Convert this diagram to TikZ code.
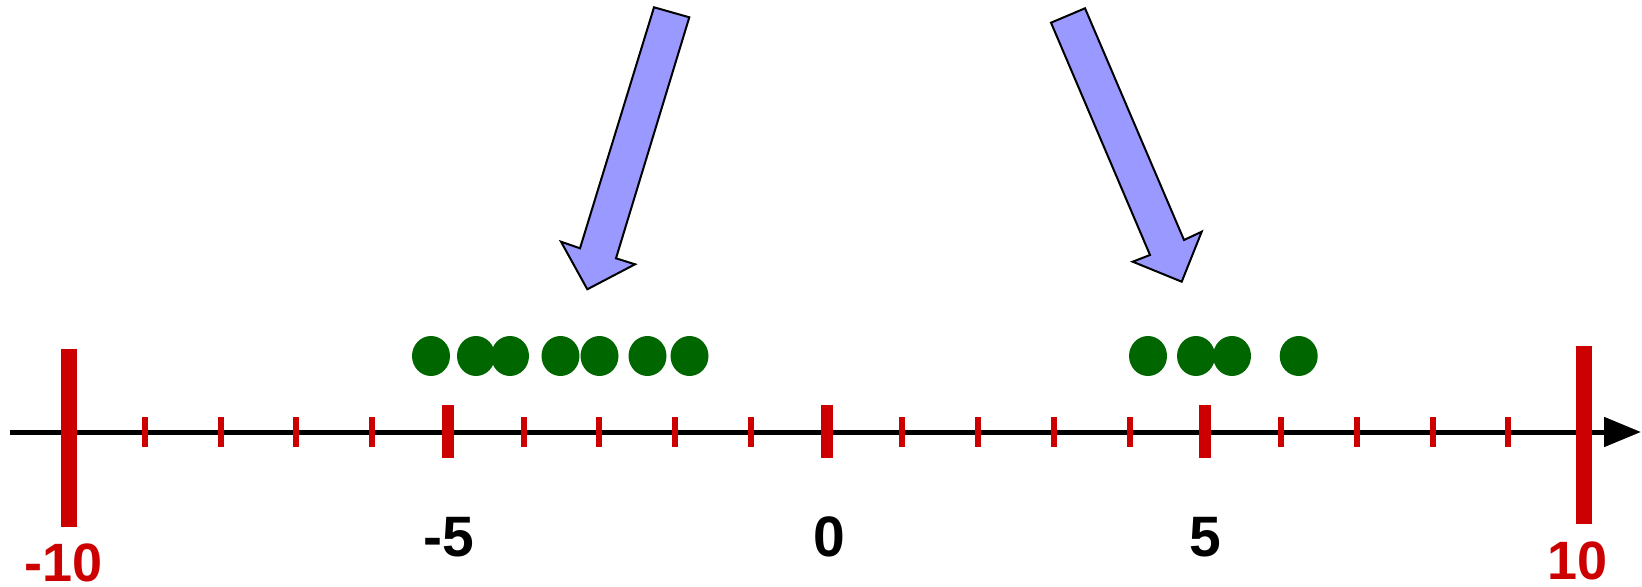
\documentclass[tikz,border=0pt]{standalone}
\usepackage{fontspec}
\setmainfont{Liberation Sans}
\usetikzlibrary{arrows.meta,shapes.geometric}
\definecolor{tickred}{HTML}{CC0000}
\definecolor{dotgreen}{HTML}{006600}
\definecolor{arrowblue}{HTML}{9999FF}
\begin{document}
\begin{tikzpicture}[x=0.5pt,y=-0.5pt,
  bigtick/.style={draw=tickred,line width=8pt},
  midtick/.style={draw=tickred,line width=6pt},
  smalltick/.style={draw=tickred,line width=3pt},
  dot/.style={ellipse,fill=dotgreen,minimum width=19pt,minimum height=20pt,inner sep=0pt},
  blockarrow/.style={draw=black,fill=arrowblue,line width=1pt,line join=miter},
  redlabel/.style={text=tickred,inner sep=0pt,font=\fontsize{27}{30}\selectfont\bfseries},
  blacklabel/.style={text=black,inner sep=0pt,font=\fontsize{28.5}{30}\selectfont\bfseries},
]
\useasboundingbox (0,0) rectangle (1642,587);

% number line
\coordinate (axstart) at (10,432);
\coordinate (axend) at (1641,432);
\draw[line width=2.5pt,-{Triangle[length=18.5pt,width=14.5pt]}] (axstart) -- (axend);

% unit ticks
\foreach \k in {-9,-8,-7,-6,-4,-3,-2,-1,1,2,3,4,6,7,8,9}
  \draw[smalltick] ({826.5+75.75*\k},417) -- ++(0,30);
% ticks at -5, 0, 5
\foreach \k in {-5,0,5}
  \draw[midtick] ({826.5+75.75*\k},405) -- ++(0,53);
% end ticks at -10 and 10
\draw[bigtick] (69,349) -- (69,527);
\draw[bigtick] (1584,346) -- (1584,524);

% tick labels
\node[redlabel] (lm10) at (64,562.5) {-10};
\node[blacklabel] (lm5) at (448.5,537) {-5};
\node[blacklabel] (l0) at (829,537) {0};
\node[blacklabel] (l5) at (1205,537) {5};
\node[redlabel] (l10) at (1577.5,561) {10};

% data points, left cluster
\node[dot] (a1) at (431,356) {};
\node[dot] (a2) at (476,356) {};
\node[dot] (a3) at (510,356) {};
\node[dot] (a4) at (560.5,356) {};
\node[dot] (a5) at (599.5,356) {};
\node[dot] (a6) at (647.5,356) {};
\node[dot] (a7) at (689.5,356) {};
% data points, right cluster
\node[dot] (b1) at (1148,356) {};
\node[dot] (b2) at (1196,356) {};
\node[dot] (b3) at (1232,356) {};
\node[dot] (b4) at (1298.7,356) {};

% block arrows pointing at the clusters
\draw[blockarrow] (654,7.3) -- (689.3,17.3) -- (616,258.3) -- (635,264.3)
  -- (587.3,289.3) -- (561,241.7) -- (580,248.3) -- cycle;
\draw[blockarrow] (1051,22.7) -- (1085,8.3) -- (1184,240) -- (1201.7,231.7)
  -- (1181.7,281.7) -- (1132.7,261.7) -- (1150,255) -- cycle;
\end{tikzpicture}
\end{document}
